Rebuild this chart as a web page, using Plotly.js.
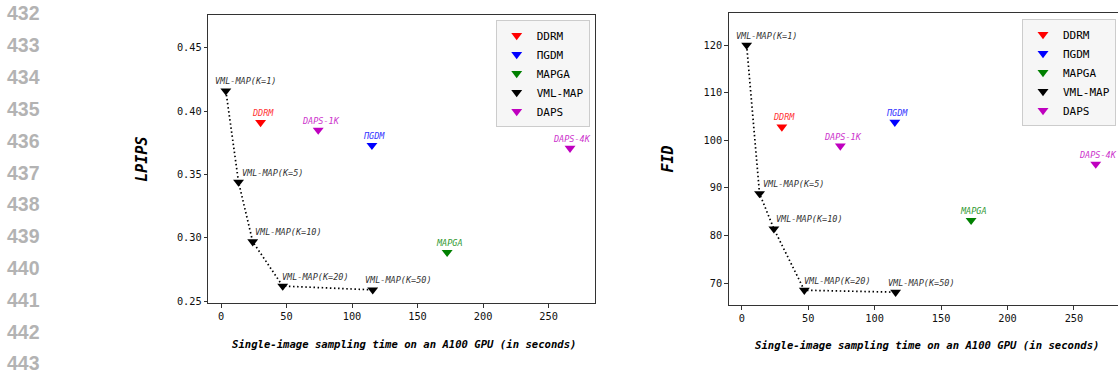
<!DOCTYPE html>
<html>
<head>
<meta charset="utf-8">
<script src="https://cdn.plot.ly/plotly-3.0.1.min.js"></script>
<style>
  html, body { margin: 0; padding: 0; width: 1118px; height: 374px; overflow: hidden; background: #fff; }
  #wrap { position: relative; width: 1118px; height: 374px; overflow: hidden; }
  #chart { position: absolute; left: 0; top: 0; width: 1125px; height: 374px; }
  .ln { position: absolute; left: 7px; font-family: "Liberation Sans", Arial, sans-serif; font-weight: bold;
        font-size: 19.5px; color: #b3b3b3; line-height: 20px; transform: translateY(-50%); }
</style>
</head>
<body>
<div id="wrap">
  <div id="chart"></div>
</div>
<script>
// ---------- data ----------
const lineNumbers = ["432","433","434","435","436","437","438","439","440","441","442","443"];

const methods = ["DDRM", "ΠGDM", "MAPGA", "VML-MAP", "DAPS"];

const ddrmTime = [30.2];
const pgdmTime = [115.2];
const mapgaTime = [172.6];
const vmlTime = [3.7, 13.4, 24.2, 47.1, 115.8];
const dapsTime = [74.2, 266.4];

const ddrmLpips = [0.391];
const pgdmLpips = [0.373];
const mapgaLpips = [0.2886];
const vmlLpips = [0.416, 0.344, 0.297, 0.262, 0.259];
const dapsLpips = [0.385, 0.3707];

const ddrmFid = [102.8];
const pgdmFid = [103.8];
const mapgaFid = [83.2];
const vmlFid = [120.0, 88.8, 81.4, 68.5, 68.1];
const dapsFid = [98.8, 95.0];

const ddrmLabels = ["DDRM"];
const pgdmLabels = ["ΠGDM"];
const mapgaLabels = ["MAPGA"];
const vmlLabels = ["VML-MAP(K=1)", "VML-MAP(K=5)", "VML-MAP(K=10)", "VML-MAP(K=20)", "VML-MAP(K=50)"];
const dapsLabels = ["DAPS-1K", "DAPS-4K"];

const xTicks = [0, 50, 100, 150, 200, 250];
const lpipsTicks = [0.25, 0.30, 0.35, 0.40, 0.45];
const fidTicks = [70, 80, 90, 100, 110, 120];

// ---------- styling / layout ----------
const W = 1125, H = 374;
const markerColors = { "DDRM": "#ff0000", "ΠGDM": "#0000ff", "MAPGA": "#008000", "VML-MAP": "#000000", "DAPS": "#bf00bf" };
const labelColors  = { "DDRM": "#ff3333", "ΠGDM": "#3333ff", "MAPGA": "#339933", "VML-MAP": "#333333", "DAPS": "#cc33cc" };
const vmlLabelShift = [-13, 1.5, 0, -2.5, -9.5];

const mono = "DejaVu Sans Mono, monospace";

// pixel boxes of the two panels
const P1 = { l: 208.3, r: 595.3, t: 14.7, b: 303.3 };
const P2 = { l: 728.7, r: 1121.4, t: 12.7, b: 305.0 };
const xd = p => [p.l / W, p.r / W];
const yd = p => [(H - p.b) / H, (H - p.t) / H];

const series = [
  { name: "DDRM", t: ddrmTime, l: ddrmLpips, f: ddrmFid, lab: ddrmLabels },
  { name: "ΠGDM", t: pgdmTime, l: pgdmLpips, f: pgdmFid, lab: pgdmLabels },
  { name: "MAPGA", t: mapgaTime, l: mapgaLpips, f: mapgaFid, lab: mapgaLabels },
  { name: "VML-MAP", t: vmlTime, l: vmlLpips, f: vmlFid, lab: vmlLabels },
  { name: "DAPS", t: dapsTime, l: dapsLpips, f: dapsFid, lab: dapsLabels }
];

const traces = [];
const annotations = [];

function addPanel(key, xa, ya, legendId) {
  // dotted line for VML-MAP
  traces.push({
    type: "scatter", mode: "lines", x: vmlTime, y: key === "l" ? vmlLpips : vmlFid,
    xaxis: xa, yaxis: ya, showlegend: false, hoverinfo: "skip",
    line: { color: "#000", width: 1.7, dash: "1.5px,2.6px" }
  });
  series.forEach(s => {
    traces.push({
      type: "scatter", mode: "markers", name: s.name, x: s.t, y: s[key],
      xaxis: xa, yaxis: ya, legend: legendId,
      marker: { symbol: "triangle-down", size: 9.5, color: markerColors[s.name], line: { width: 0 } }
    });
    s.t.forEach((tv, i) => {
      const isVml = s.name === "VML-MAP";
      annotations.push({
        text: "<i>" + s.lab[i] + "</i>", x: tv, y: s[key][i],
        xref: xa, yref: ya,
        showarrow: false, xanchor: isVml ? "left" : "center", yanchor: "middle",
        xshift: isVml ? vmlLabelShift[i] : 2.4, yshift: 9.5,
        font: { family: mono, size: 8.5, color: labelColors[s.name] }
      });
    });
  });
}
addPanel("l", "x", "y", "legend");
addPanel("f", "x2", "y2", "legend2");

// axis titles
const titleFontX = { family: mono, size: 10.6, color: "#000" };
const titleFontY = { family: mono, size: 15, color: "#000" };
function pxX(px) { return px / W; }
function pxY(py) { return (H - py) / H; }
annotations.push(
  { text: "<b><i>Single-image sampling time on an A100 GPU (in seconds)</i></b>", xref: "paper", yref: "paper",
    x: pxX((P1.l + P1.r) / 2), y: pxY(344), xanchor: "center", yanchor: "middle", xshift: 2, showarrow: false, font: titleFontX },
  { text: "<b><i>Single-image sampling time on an A100 GPU (in seconds)</i></b>", xref: "paper", yref: "paper",
    x: pxX((P2.l + P2.r) / 2), y: pxY(344.5), xanchor: "center", yanchor: "middle", xshift: 2, showarrow: false, font: titleFontX },
  { text: "<b><i>LPIPS</i></b>", xref: "paper", yref: "paper", x: pxX(141.7), y: pxY(159),
    xanchor: "center", yanchor: "middle", textangle: -90, showarrow: false, font: titleFontY },
  { text: "<b><i>FID</i></b>", xref: "paper", yref: "paper", x: pxX(668.3), y: pxY(159.2),
    xanchor: "center", yanchor: "middle", textangle: -90, showarrow: false, font: titleFontY }
);

const axisCommon = {
  showline: true, mirror: true, linecolor: "#333", linewidth: 1,
  ticks: "outside", ticklen: 3.5, tickwidth: 1, tickcolor: "#333",
  showgrid: false, zeroline: false, fixedrange: true,
  tickfont: { family: mono, size: 10.3, color: "#111" }
};

const legendCommon = {
  bgcolor: "rgba(246,246,246,0.95)", bordercolor: "#cccccc", borderwidth: 1,
  xanchor: "right", yanchor: "top", itemwidth: 30,
  font: { family: mono, size: 11, color: "#000" }
};

const layout = {
  width: W, height: H,
  margin: { l: 0, r: 0, t: 0, b: 0, pad: 0 },
  paper_bgcolor: "#fff", plot_bgcolor: "#fff",
  showlegend: true,
  xaxis: Object.assign({}, axisCommon, { domain: xd(P1), range: [-9.7, 285.7], tickvals: xTicks, anchor: "y" }),
  yaxis: Object.assign({}, axisCommon, { domain: yd(P1), range: [0.2484, 0.476], tickvals: lpipsTicks, tickformat: ".2f", anchor: "x" }),
  xaxis2: Object.assign({}, axisCommon, { domain: xd(P2), range: [-9.8, 285.7], tickvals: xTicks, anchor: "y2" }),
  yaxis2: Object.assign({}, axisCommon, { domain: yd(P2), range: [65.4, 126.8], tickvals: fidTicks, anchor: "x2" }),
  legend: Object.assign({}, legendCommon, { x: 589.7 / W, y: (H - 20) / H }),
  legend2: Object.assign({}, legendCommon, { x: 1116 / W, y: (H - 19) / H }),
  annotations: annotations
};

Plotly.newPlot("chart", traces, layout, { staticPlot: true, displayModeBar: false });

// line numbers (page margin text)
const lnY = [13.3, 45, 77.3, 109.3, 140.8, 172.6, 204.4, 236.2, 268.0, 299.8, 331.6, 363.4];
const wrap = document.getElementById("wrap");
lineNumbers.forEach((t, i) => {
  const d = document.createElement("div");
  d.className = "ln";
  d.style.top = lnY[i] + "px";
  d.textContent = t;
  wrap.appendChild(d);
});
</script>
</body>
</html>
